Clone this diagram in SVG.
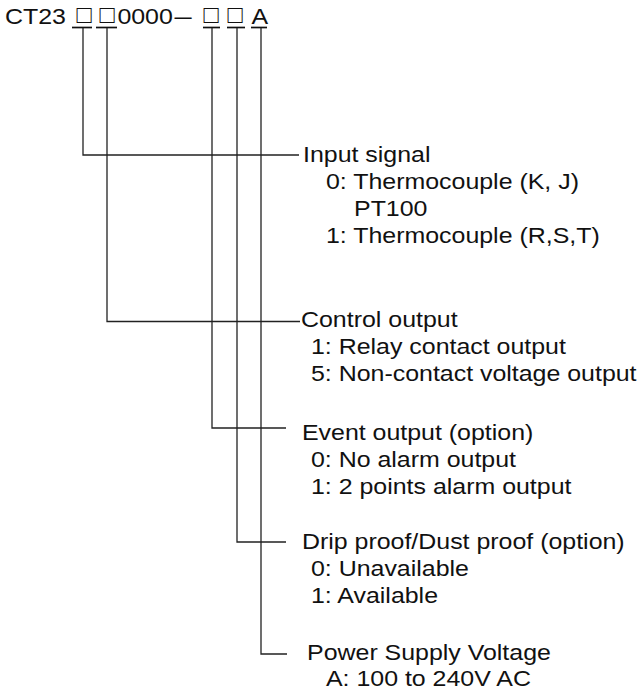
<svg xmlns="http://www.w3.org/2000/svg" width="643" height="691" viewBox="0 0 643 691">
<style>
  text { font-family: "Liberation Sans", Arial, sans-serif; font-size: 21.5px; fill: #111; }
  .box { font-size: 25.5px; }
  .c { fill: none; stroke: #222; stroke-width: 1.3; }
  .u { stroke: #111; stroke-width: 1.7; }
</style>
<rect width="643" height="691" fill="#fff"/>
<g id="code">
  <g transform="scale(1.16,1)">
    <text y="24"><tspan x="4.3">CT23</tspan><tspan x="101.2">0000</tspan><tspan x="216.8">A</tspan></text>
    <text x="150.5" y="24" textLength="14.8" lengthAdjust="spacingAndGlyphs">–</text>
  </g>
  <text class="box" y="23.2"><tspan x="76.5">□</tspan><tspan x="99.5">□</tspan><tspan x="203.5">□</tspan><tspan x="227.5">□</tspan></text>
  <line class="u" x1="72" y1="27.5" x2="92" y2="27.5"/>
  <line class="u" x1="96" y1="27.5" x2="117" y2="27.5"/>
  <line class="u" x1="203" y1="27.5" x2="220" y2="27.5"/>
  <line class="u" x1="227" y1="27.5" x2="245" y2="27.5"/>
  <line class="u" x1="251" y1="27.5" x2="267" y2="27.5"/>
</g>
<g id="connectors">
  <path class="c" d="M83,28 V155 H299"/>
  <path class="c" d="M107,28 V321.5 H300"/>
  <path class="c" d="M212,28 V428 H286"/>
  <path class="c" d="M237,28 V542 H286"/>
  <path class="c" d="M261,28 V654 H287"/>
</g>
<g transform="scale(1.16,1)">
  <g id="input-signal">
    <text x="261.2" y="162">Input signal</text>
    <text x="281" y="189">0: Thermocouple (K, J)</text>
    <text x="305.2" y="216">PT100</text>
    <text x="281" y="243">1: Thermocouple (R,S,T)</text>
  </g>
  <g id="control-output">
    <text x="259.5" y="327">Control output</text>
    <text x="268.1" y="354">1: Relay contact output</text>
    <text x="268.1" y="381">5: Non-contact voltage output</text>
  </g>
  <g id="event-output">
    <text x="260.3" y="440">Event output (option)</text>
    <text x="268.1" y="467">0: No alarm output</text>
    <text x="268.1" y="494">1: 2 points alarm output</text>
  </g>
  <g id="drip-proof">
    <text x="260.3" y="549">Drip proof/Dust proof (option)</text>
    <text x="268.1" y="576">0: Unavailable</text>
    <text x="268.1" y="603">1: Available</text>
  </g>
  <g id="power-supply">
    <text x="264.7" y="660">Power Supply Voltage</text>
    <text x="281" y="686">A: 100 to 240V AC</text>
  </g>
</g>
</svg>
